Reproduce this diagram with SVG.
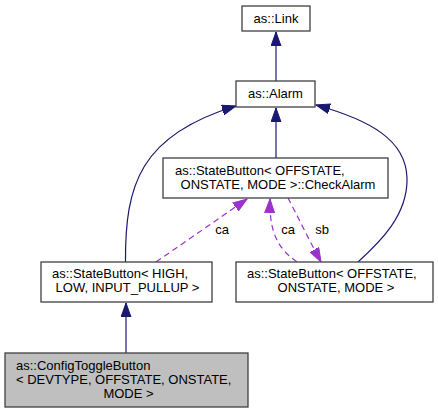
<svg xmlns="http://www.w3.org/2000/svg" width="438" height="413" viewBox="0 0 438 413">
<style>
text{font-family:"Liberation Sans",Arial,sans-serif;font-size:13px;fill:#000}
.box{fill:#fff;stroke:#404040;stroke-width:1.3}
.cur{fill:#bfbfbf;stroke:#404040;stroke-width:1.3}
.inh{fill:none;stroke:#191970;stroke-width:1.2}
.use{fill:none;stroke:#9a32cd;stroke-width:1.2;stroke-dasharray:6,4}
.m{text-anchor:middle}
</style>
<defs>
<marker id="ab" markerUnits="userSpaceOnUse" markerWidth="15" markerHeight="11" refX="14" refY="5.5" orient="auto"><path d="M0,0.5 L14,5.5 L0,10.5 z" fill="#191970" stroke="#191970" stroke-width="1"/></marker>
<marker id="ap" markerUnits="userSpaceOnUse" markerWidth="15" markerHeight="11" refX="14" refY="5.5" orient="auto"><path d="M0,0.5 L14,5.5 L0,10.5 z" fill="#9a32cd" stroke="#9a32cd" stroke-width="1"/></marker>
</defs>
<rect width="438" height="413" fill="#fff"/>
<g id="edges">
<path class="inh" d="M276,81 L276,32" marker-end="url(#ab)"/>
<path class="inh" d="M276,158 L276,108" marker-end="url(#ab)"/>
<path class="inh" d="M125.5,262 C125,185 140,135 236,106" marker-end="url(#ab)"/>
<path class="inh" d="M358,262 C380,242 408,215 407,178 C406,140 370,120 316,105" marker-end="url(#ab)"/>
<path class="inh" d="M126,353 L126,303" marker-end="url(#ab)"/>
<path class="use" d="M156,262 L247,199" marker-end="url(#ap)"/>
<text class="m" x="222" y="234">ca</text>
<path class="use" d="M297,262 C280,250 269,235 270,199" marker-end="url(#ap)"/>
<text class="m" x="288" y="234">ca</text>
<path class="use" d="M288,198 C297,215 308,238 321,262" marker-end="url(#ap)"/>
<text class="m" x="322" y="234">sb</text>
</g>
<g id="link">
<rect class="box" x="242" y="6" width="68" height="25"/>
<text class="m" x="276" y="23">as::Link</text>
</g>
<g id="alarm">
<rect class="box" x="236" y="81" width="79" height="26"/>
<text class="m" x="275.5" y="98">as::Alarm</text>
</g>
<g id="checkalarm">
<rect class="box" x="163" y="158" width="225" height="40"/>
<text x="175" y="175">as::StateButton&lt; OFFSTATE,</text>
<text class="m" x="278" y="189">ONSTATE, MODE &gt;::CheckAlarm</text>
</g>
<g id="sb_high">
<rect class="box" x="41" y="262" width="171" height="40"/>
<text x="52" y="278">as::StateButton&lt; HIGH,</text>
<text class="m" x="127.5" y="292">LOW, INPUT_PULLUP &gt;</text>
</g>
<g id="sb_off">
<rect class="box" x="236" y="262" width="197" height="40"/>
<text x="247" y="278">as::StateButton&lt; OFFSTATE,</text>
<text class="m" x="336" y="292">ONSTATE, MODE &gt;</text>
</g>
<g id="configtoggle">
<rect class="cur" x="5" y="353" width="243" height="54"/>
<text x="16" y="370">as::ConfigToggleButton</text>
<text x="16" y="384">&lt; DEVTYPE, OFFSTATE, ONSTATE,</text>
<text class="m" x="128.5" y="398">MODE &gt;</text>
</g>
</svg>
